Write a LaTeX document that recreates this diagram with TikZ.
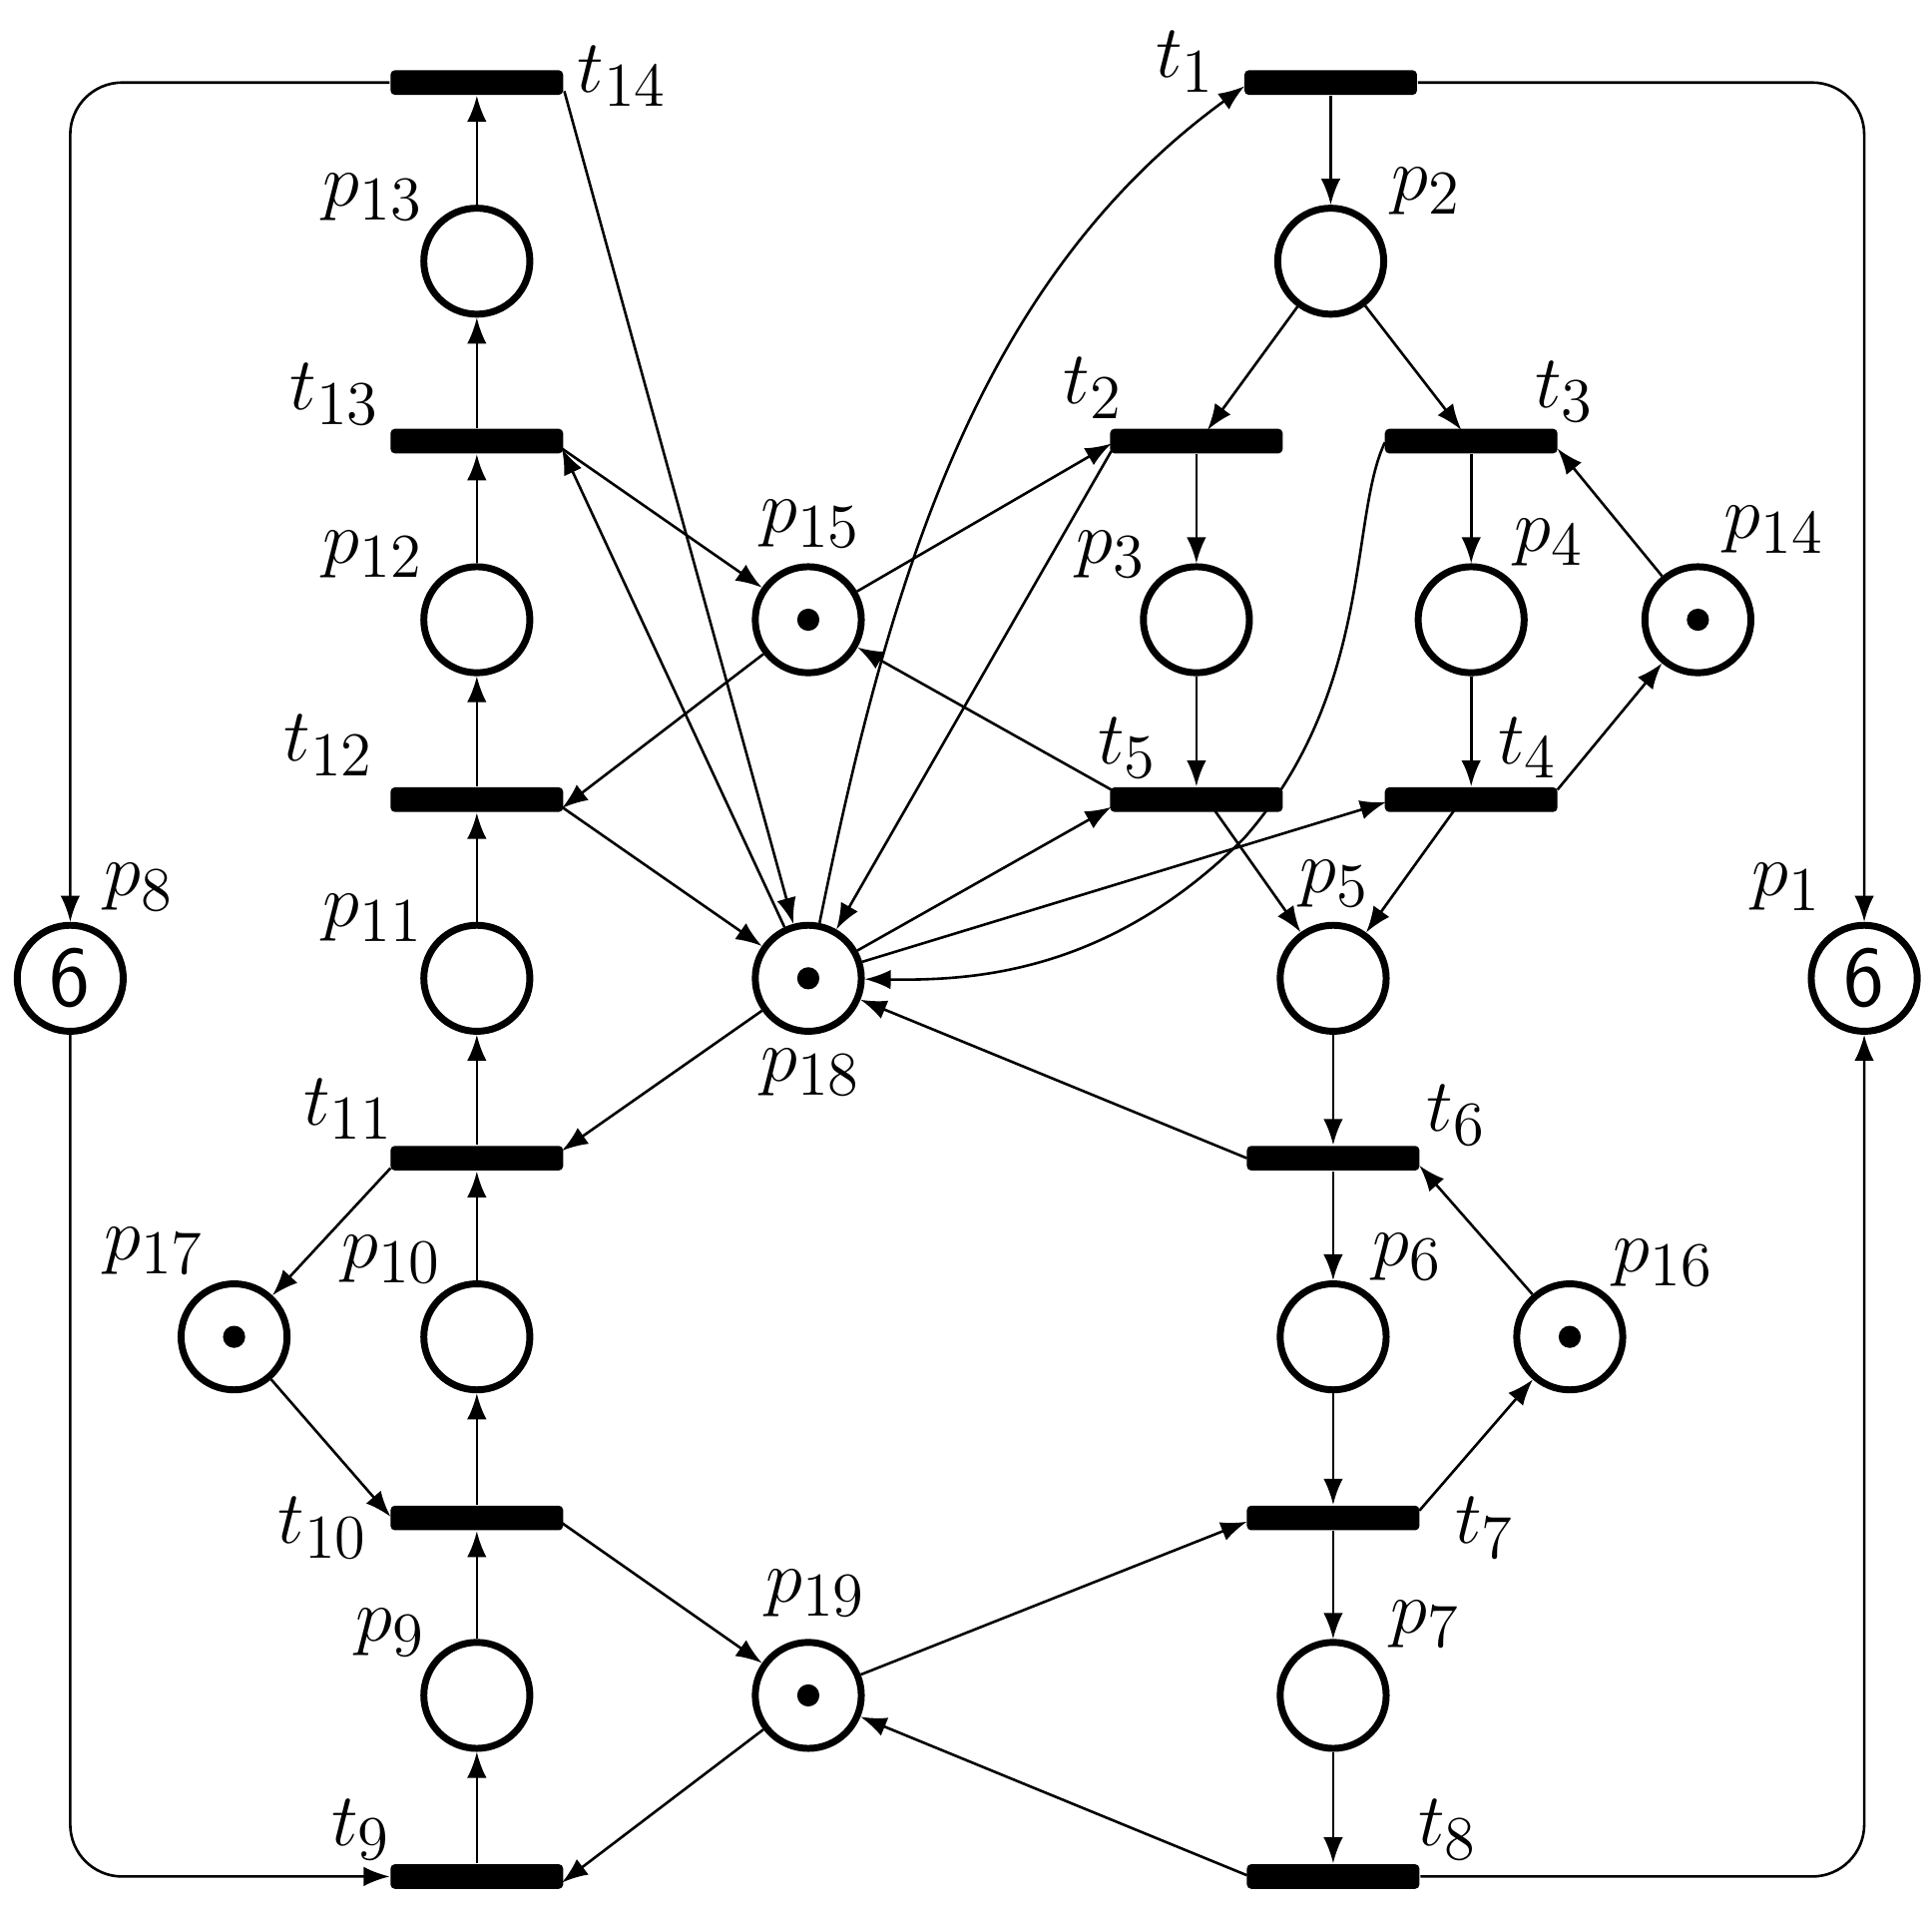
\documentclass[tikz,border=0pt]{standalone}
\usetikzlibrary{arrows.meta}
\begin{document}
\begin{tikzpicture}[x=0.01cm,y=-0.01cm,
 pl/.style={circle,draw,line width=1.6pt,minimum size=0.86cm,inner sep=0pt},
 tr/.style={fill=black,minimum width=1.4cm,minimum height=0.2cm,inner sep=0pt,rounded corners=1pt},
 tok/.style={pl,label={[fill=black,circle,inner sep=0pt,minimum size=0.18cm]center:}},
 lb/.style={font=\fontsize{19}{22}\selectfont},
 a/.style={-{Latex[length=6pt,width=4.5pt]},line width=0.6pt},
 every label/.style={lb}]
\useasboundingbox (0,0) rectangle (1568,1555);
% transitions
\node[tr] (t14) at (387,67){}; \node[lb] at (505,62){$t_{14}$};
\node[tr] (t1) at (1080,67){}; \node[lb] at (962,50){$t_{1}$};
\node[tr] (t13) at (387,358){}; \node[lb] at (272,320){$t_{13}$};
\node[tr] (t2) at (971,358){}; \node[lb] at (887,315){$t_{2}$};
\node[tr] (t3) at (1194,358){}; \node[lb] at (1270,318){$t_{3}$};
\node[tr] (t12) at (387,649){}; \node[lb] at (267,605){$t_{12}$};
\node[tr] (t5) at (971,649){}; \node[lb] at (915,607){$t_{5}$};
\node[tr] (t4) at (1194,649){}; \node[lb] at (1240,607){$t_{4}$};
\node[tr] (t11) at (387,940){}; \node[lb] at (283,900){$t_{11}$};
\node[tr] (t6) at (1082,940){}; \node[lb] at (1182,905){$t_{6}$};
\node[tr] (t10) at (387,1232){}; \node[lb] at (262,1240){$t_{10}$};
\node[tr] (t7) at (1082,1232){}; \node[lb] at (1205,1240){$t_{7}$};
\node[tr] (t9) at (387,1523){}; \node[lb] at (293,1485){$t_{9}$};
\node[tr] (t8) at (1082,1523){}; \node[lb] at (1175,1485){$t_{8}$};
% places
\node[pl] (p13) at (387,212){}; \node[lb] at (303,160){$p_{13}$};
\node[pl] (p2) at (1080,212){}; \node[lb] at (1158,155){$p_{2}$};
\node[pl] (p12) at (387,503){}; \node[lb] at (303,450){$p_{12}$};
\node[pl] (p3) at (971,503){}; \node[lb] at (902,450){$p_{3}$};
\node[pl] (p4) at (1194,503){}; \node[lb] at (1257,440){$p_{4}$};
\node[tok] (p15) at (656,503){}; \node[lb] at (658,425){$p_{15}$};
\node[tok] (p14) at (1378,503){}; \node[lb] at (1440,430){$p_{14}$};
\node[pl] (p8) at (57,794){\sffamily\fontsize{20}{22}\selectfont 6}; \node[lb] at (113,720){$p_{8}$};
\node[pl] (p11) at (387,794){}; \node[lb] at (303,745){$p_{11}$};
\node[tok] (p18) at (656,794){}; \node[lb] at (658,870){$p_{18}$};
\node[pl] (p5) at (1082,794){}; \node[lb] at (1083,717){$p_{5}$};
\node[pl] (p1) at (1513,794){\sffamily\fontsize{20}{22}\selectfont 6}; \node[lb] at (1450,720){$p_{1}$};
\node[tok] (p17) at (190,1085){}; \node[lb] at (125,1015){$p_{17}$};
\node[pl] (p10) at (387,1085){}; \node[lb] at (318,1022){$p_{10}$};
\node[pl] (p6) at (1082,1085){}; \node[lb] at (1142,1020){$p_{6}$};
\node[tok] (p16) at (1274,1085){}; \node[lb] at (1350,1025){$p_{16}$};
\node[pl] (p9) at (387,1376){}; \node[lb] at (317,1325){$p_{9}$};
\node[tok] (p19) at (656,1376){}; \node[lb] at (662,1293){$p_{19}$};
\node[pl] (p7) at (1082,1376){}; \node[lb] at (1157,1318){$p_{7}$};
% border arcs
\draw[a,rounded corners=12pt] (t14.west) -- (57,67) -- (p8.north);
\draw[a,rounded corners=12pt] (p8.south) -- (57,1523) -- (t9.west);
\draw[a,rounded corners=12pt] (t1.east) -- (1513,67) -- (p1.north);
\draw[a,rounded corners=12pt] (t8.east) -- (1513,1523) -- (p1.south);
% chains
\foreach \u/\v in {t9/p9,p9/t10,t10/p10,p10/t11,t11/p11,p11/t12,t12/p12,p12/t13,t13/p13,p13/t14,
 t1/p2,t2/p3,p3/t5,t3/p4,p4/t4,p5/t6,t6/p6,p6/t7,t7/p7,p7/t8}
 \draw[a] (\u) -- (\v);
\draw[a] (p2) -- (980,349);
\draw[a] (p2) -- (1186,349);
\draw[a] (986,658) -- (p5);
\draw[a] (1180,658) -- (p5);
\draw[a] (p14) -- (1264,364);
\draw[a] (1264,641) -- (p14);
\draw[a] (p16) -- (1152,946);
\draw[a] (1152,1226) -- (p16);
\draw[a] (p17) -- (317,1231);
\draw[a] (317,948) -- (p17);
% p15
\draw[a] (456,364) -- (p15);
\draw[a] (p15) -- (456,656);
\draw[a] (p15) -- (902,360);
\draw[a] (902,641) -- (p15);
% p18
\draw[a] (458,74) -- (p18);
\draw[a] (p18) -- (456,364);
\draw[a] (456,655) -- (p18);
\draw[a] (p18) -- (456,934);
\draw[a] (p18) .. controls (720,480) and (790,230) .. (1010,70);
\draw[a] (902,366) -- (p18);
\draw[a] (p18) -- (902,655);
\draw[a] (p18) -- (1125,651);
\draw[a] (1124,359) .. controls (1095,420) and (1115,560) .. (1010,680) .. controls (900,790) and (790,796) .. (p18);
\draw[a] (1012,940) -- (p18);
% p19
\draw[a] (456,1236) -- (p19);
\draw[a] (p19) -- (456,1528);
\draw[a] (p19) -- (1012,1235);
\draw[a] (1012,1522) -- (p19);
\end{tikzpicture}
\end{document}
